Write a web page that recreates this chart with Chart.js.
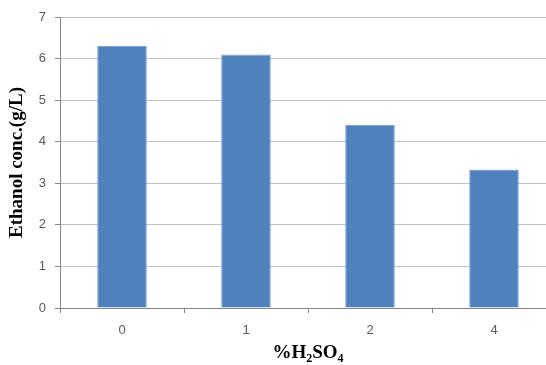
<!DOCTYPE html>
<html>
<head>
<meta charset="utf-8">
<script src="https://cdn.jsdelivr.net/npm/chart.js@4"></script>
<style>
    html, body { margin: 0; padding: 0; overflow: hidden; background: #fff; }
    #wrap { width: 566px; height: 365px; }
</style>
</head>
<body>
<div id="wrap"><canvas id="ethChart" width="566" height="365"></canvas></div>
<script>
// data
const categories = ['0', '1', '2', '4'];
const ethanolConc = [6.3, 6.1, 4.4, 3.33];
const yTicks = [0, 1, 2, 3, 4, 5, 6, 7];

// x title with real subscripts: %H2SO4
const xTitlePlugin = {
    id: 'xTitle',
    afterDraw(chart) {
        const c = chart.ctx;
        const area = chart.chartArea;
        const parts = [['%H', false], ['2', true], ['SO', false], ['4', true]];
        const big = 'bold 19px "Liberation Serif", "Times New Roman", serif';
        const small = 'bold 12px "Liberation Serif", "Times New Roman", serif';
        c.save();
        let total = 0;
        parts.forEach(p => { c.font = p[1] ? small : big; total += c.measureText(p[0]).width; });
        let x = (area.left + area.right) / 2 - total / 2;
        const y = 358;
        c.fillStyle = '#000';
        c.textBaseline = 'alphabetic';
        parts.forEach(p => {
            c.font = p[1] ? small : big;
            c.fillText(p[0], x, p[1] ? y + 4 : y);
            x += c.measureText(p[0]).width;
        });
        c.restore();
    }
};

new Chart(document.getElementById('ethChart').getContext('2d'), {
    type: 'bar',
    data: {
        labels: categories,
        datasets: [{
            data: ethanolConc,
            backgroundColor: '#4F81BD',
            borderColor: '#7EA3D1',
            borderWidth: 1,
            barPercentage: 0.4,
            categoryPercentage: 1
        }]
    },
    options: {
        responsive: false,
        animation: false,
        layout: { padding: { top: 17, right: 10, left: 0, bottom: 0 } },
        plugins: { legend: { display: false }, tooltip: { enabled: false } },
        scales: {
            x: {
                afterFit: s => { s.height = 57; },
                grid: { drawOnChartArea: false, drawTicks: true, tickLength: 5, tickColor: '#868686' },
                border: { color: '#868686' },
                ticks: { color: '#595959', padding: 10, font: { family: '"Liberation Sans", Arial, sans-serif', size: 13 } }
            },
            y: {
                min: 0,
                max: 7,
                afterFit: s => { s.width = 60; },
                afterBuildTicks: s => { s.ticks = yTicks.map(v => ({ value: v })); },
                grid: { color: '#BEBEBE', tickColor: '#868686', tickLength: 5 },
                border: { color: '#868686' },
                ticks: { color: '#595959', padding: 9, font: { family: '"Liberation Sans", Arial, sans-serif', size: 13 } },
                title: {
                    display: true,
                    text: 'Ethanol conc.(g/L)',
                    color: '#000',
                    padding: { top: 6, bottom: 0 },
                    font: { family: '"Liberation Serif", "Times New Roman", serif', size: 19, weight: 'bold' }
                }
            }
        }
    },
    plugins: [xTitlePlugin]
});
</script>
</body>
</html>
